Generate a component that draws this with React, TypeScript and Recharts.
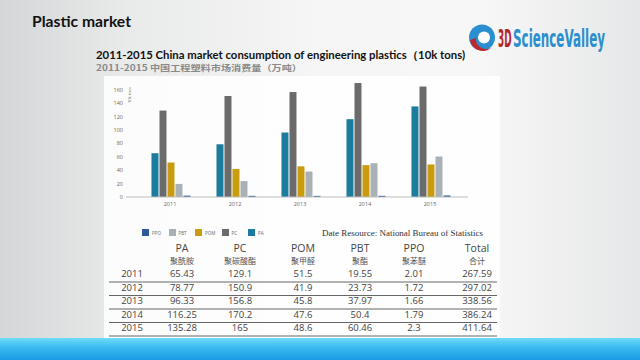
import React from 'react';
import { BarChart, Bar, XAxis, YAxis, Legend } from 'recharts';

const years = ['2011', '2012', '2013', '2014', '2015'];
const seriesKeys = ['PA', 'PC', 'POM', 'PBT', 'PPO'];
const seriesCn = ['聚酰胺', '聚碳酸酯', '聚甲醛', '聚酯', '聚苯醚'];
const seriesColors = ['#1b7c9e', '#6b6b6b', '#c99c10', '#a9b1b6', '#2e5a9c'];
const paValues = [65.43, 78.77, 96.33, 116.25, 135.28];
const pcValues = [129.1, 150.9, 156.8, 170.2, 165];
const pomValues = [51.5, 41.9, 45.8, 47.6, 48.6];
const pbtValues = [19.55, 23.73, 37.97, 50.4, 60.46];
const ppoValues = [2.01, 1.72, 1.66, 1.79, 2.3];
const totals = ['267.59', '297.02', '338.56', '386.24', '411.64'];
const tableCells = [
  ['65.43', '129.1', '51.5', '19.55', '2.01'],
  ['78.77', '150.9', '41.9', '23.73', '1.72'],
  ['96.33', '156.8', '45.8', '37.97', '1.66'],
  ['116.25', '170.2', '47.6', '50.4', '1.79'],
  ['135.28', '165', '48.6', '60.46', '2.3'],
];
const yTicks = [0, 20, 40, 60, 80, 100, 120, 140, 160];

const seriesValues = [paValues, pcValues, pomValues, pbtValues, ppoValues];
const data = years.map((y, i) => {
  const row: Record<string, string | number> = { year: y };
  seriesKeys.forEach((k, j) => {
    row[k] = seriesValues[j][i];
  });
  return row;
});

const colX = [132, 182, 240, 303, 360, 414, 477];
const rowY = [277, 290.5, 304, 317.5, 331];
const lineY = [282, 295.5, 309, 322.5, 336];

function LegendContent() {
  const order = [4, 3, 2, 1, 0];
  return (
    <div style={{ display: 'flex', alignItems: 'center' }}>
      {order.map((j) => (
        <div key={seriesKeys[j]} style={{ display: 'flex', alignItems: 'center', width: 26.5 }}>
          <div style={{ width: 7, height: 7, background: seriesColors[j] }} />
          <span style={{ fontFamily: 'Open Sans, sans-serif', fontSize: 4.5, color: '#666', marginLeft: 3 }}>
            {seriesKeys[j]}
          </span>
        </div>
      ))}
    </div>
  );
}

export default function App() {
  return (
    <div
      style={{
        position: 'absolute',
        left: 0,
        top: 0,
        width: 640,
        height: 360,
        overflow: 'hidden',
        background: 'linear-gradient(90deg, #d5d6d7 0%, #e9eaea 20%, #f6f6f6 50%, #f7f7f7 75%, #e6e7e8 100%)',
      }}
    >
      <div style={{ position: 'absolute', left: 104, top: 76, width: 396, height: 262, background: 'rgba(255,255,255,0.85)' }} />
      <div
        style={{
          position: 'absolute',
          left: 0,
          top: 338,
          width: 640,
          height: 22,
          background: 'linear-gradient(180deg, #6fdcf8 0%, #3cbcf0 40%, #1a9ae4 100%)',
        }}
      />
      <svg width={640} height={360} style={{ position: 'absolute', left: 0, top: 0 }}>
        <text x={32} y={27} fontFamily="Lato, 'Open Sans', sans-serif" fontWeight={700} fontSize={14.5} fill="#111" textLength={99} lengthAdjust="spacingAndGlyphs">
          Plastic market
        </text>
        <text x={96} y={59} fontFamily="Lato, 'Open Sans', sans-serif" fontWeight={700} fontSize={11} fill="#111" textLength={369} lengthAdjust="spacingAndGlyphs">
          2011-2015 China market consumption of engineering plastics（10k tons)
        </text>
        <text x={96} y={71} fontFamily="'Noto Sans CJK SC', sans-serif" fontWeight={700} fontSize={8.5} fill="#8a8a8a" textLength={206} lengthAdjust="spacingAndGlyphs">
          2011-2015 中国工程塑料市场消费量（万吨）
        </text>
        {/* logo */}
        <g>
          <circle cx={482} cy={37.5} r={13} fill="#2a8fd0" />
          <circle cx={484} cy={37.5} r={6} fill="#ffffff" />
          <path d="M 470 40 A 13 13 0 0 0 492 47 A 10 10 0 0 1 476 38 Z" fill="#c0272d" />
          <text x={0} y={0} transform="translate(498,47) scale(1,2.35)" fontFamily="'DejaVu Sans Condensed', 'DejaVu Sans', sans-serif" fontWeight={700} fontSize={10.5} fill="#b3262c" textLength={13.5} lengthAdjust="spacingAndGlyphs">
            3D
          </text>
          <text x={0} y={0} transform="translate(513,47) scale(1,1.9)" fontFamily="'DejaVu Sans Condensed', 'DejaVu Sans', sans-serif" fontWeight={700} fontSize={13} fill="#2a8fd0" textLength={92} lengthAdjust="spacingAndGlyphs">
            ScienceValley
          </text>
        </g>
        <text x={322} y={236} fontFamily="'Liberation Serif', serif" fontSize={8.5} fill="#333" textLength={161} lengthAdjust="spacingAndGlyphs">
          Date Resource: National Bureau of Statistics
        </text>
        {/* table */}
        {seriesKeys.map((k, j) => (
          <text key={k} x={colX[j + 1]} y={252} textAnchor="middle" fontFamily="'Open Sans', sans-serif" fontSize={10.5} fill="#444">
            {k}
          </text>
        ))}
        <text x={colX[6]} y={252} textAnchor="middle" fontFamily="'Open Sans', sans-serif" fontSize={10.5} fill="#444">
          Total
        </text>
        {seriesCn.map((c, j) => (
          <text key={c} x={colX[j + 1]} y={264} textAnchor="middle" fontFamily="'Noto Sans CJK SC', sans-serif" fontSize={8} fill="#555">
            {c}
          </text>
        ))}
        <text x={colX[6]} y={264} textAnchor="middle" fontFamily="'Noto Sans CJK SC', sans-serif" fontSize={8} fill="#555">
          合计
        </text>
        {years.map((y, i) => (
          <g key={y}>
            <text x={colX[0]} y={rowY[i]} textAnchor="middle" fontFamily="'Open Sans', sans-serif" fontSize={9.5} fill="#444">
              {y}
            </text>
            {tableCells[i].map((v, j) => (
              <text key={j} x={colX[j + 1]} y={rowY[i]} textAnchor="middle" fontFamily="'Open Sans', sans-serif" fontSize={9.5} fill="#444">
                {v}
              </text>
            ))}
            <text x={colX[6]} y={rowY[i]} textAnchor="middle" fontFamily="'Open Sans', sans-serif" fontSize={9.5} fill="#444">
              {totals[i]}
            </text>
            <line x1={109} x2={497} y1={lineY[i]} y2={lineY[i]} stroke="#666" strokeWidth={1} />
          </g>
        ))}
        <text
          x={0}
          y={0}
          transform="translate(131,95) rotate(-90)"
          textAnchor="middle"
          fontFamily="'Open Sans', sans-serif"
          fontSize={4}
          fill="#777"
        >
          10k tons
        </text>
      </svg>
      <div style={{ position: 'absolute', left: 0, top: 0 }}>
        <BarChart
          width={640}
          height={360}
          data={data}
          margin={{ top: 76.5, right: 172, bottom: 142, left: 106 }}
          barCategoryGap="21.5%"
          barGap={1}
        >
          <XAxis
            dataKey="year"
            padding={{ left: 11.5, right: 5.5 }}
            tickLine={false}
            tickSize={0}
            tickMargin={5}
            height={12}
            axisLine={{ stroke: '#bdbdbd', strokeWidth: 1 }}
            tick={{ fontSize: 5.5, fill: '#666', fontFamily: "'Open Sans', sans-serif" }}
          />
          <YAxis
            domain={[0, 180]}
            ticks={yTicks}
            width={20}
            tickLine={false}
            tickSize={0}
            tickMargin={3}
            axisLine={false}
            tick={{ fontSize: 5.5, fill: '#666', fontFamily: "'Open Sans', sans-serif" }}
          />
          <Legend
            content={<LegendContent />}
            wrapperStyle={{ position: 'absolute', left: 142, top: 229, width: 140, height: 9 }}
          />
          {seriesKeys.map((k, j) => (
            <Bar key={k} dataKey={k} fill={seriesColors[j]} isAnimationActive={false} />
          ))}
        </BarChart>
      </div>
    </div>
  );
}
